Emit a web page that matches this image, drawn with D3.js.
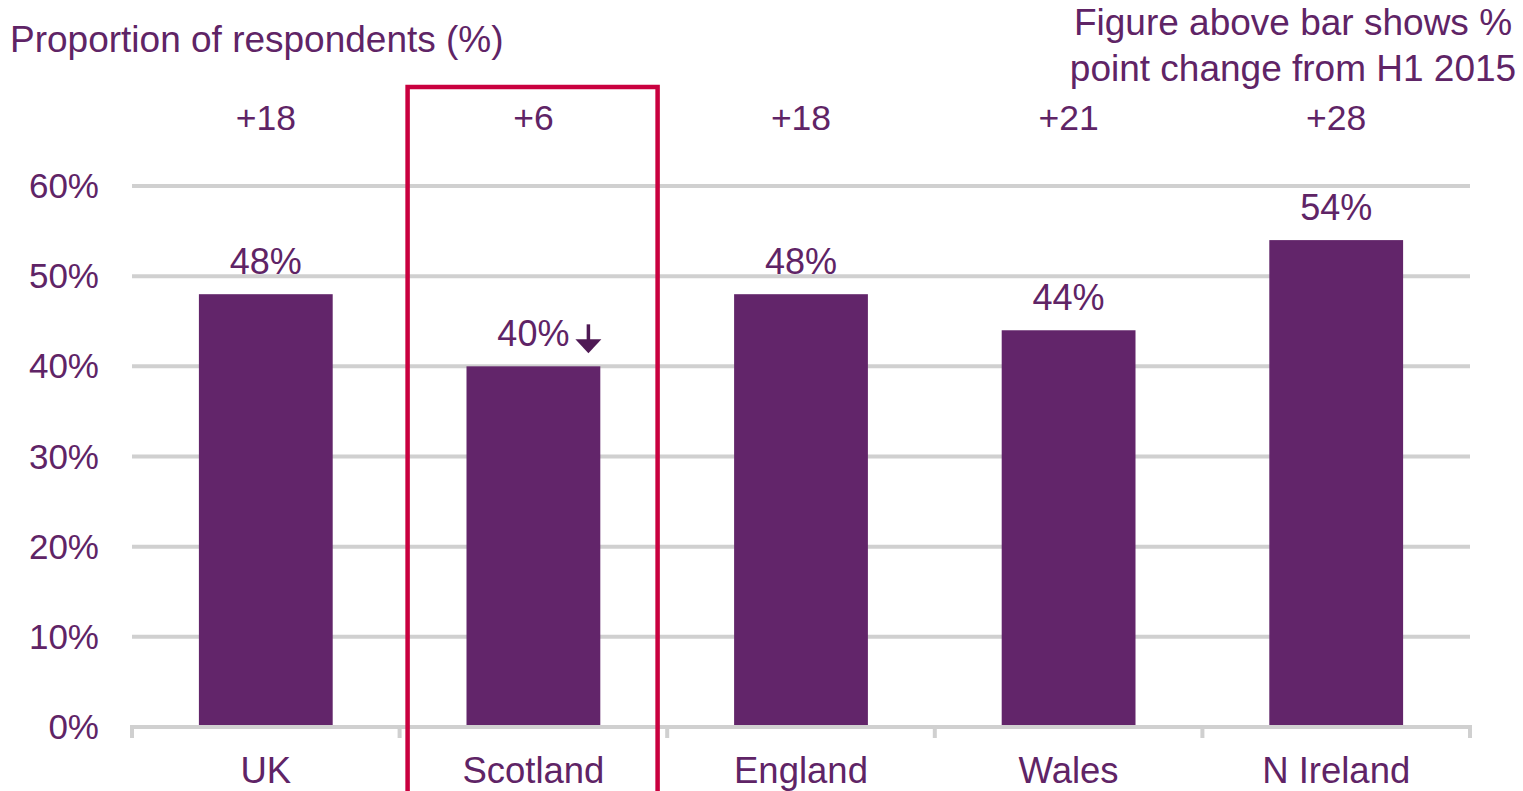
<!DOCTYPE html>
<html>
<head>
<meta charset="utf-8">
<script src="https://cdn.jsdelivr.net/npm/d3@7"></script>
<style>
  body { margin: 0; background: #fff; }
  svg { display: block; font-family: "Liberation Sans", Arial, sans-serif; }
</style>
</head>
<body>
<div id="app"></div>
<script>
const regions = ["UK", "Scotland", "England", "Wales", "N Ireland"]
const shares = [48, 40, 48, 44, 54]
const changes = ["+18", "+6", "+18", "+21", "+28"]
const yTicks = [0, 10, 20, 30, 40, 50, 60]

const purple = "#62256a"
const textCol = "#5f2466"
const gridCol = "#d0d0d0"

const W = 1523, H = 791
const svg = d3.select('#app').append('svg').attr('width', W).attr('height', H)

const x = d3.scaleBand().domain(regions).range([132, 1470]).paddingInner(0.5).paddingOuter(0.25)
const xb = d3.scaleBand().domain(regions).range([132, 1470])
const y = d3.scaleLinear().domain([0, 60]).range([727, 186])

// gridlines
svg.append('g')
    .selectAll('line')
    .data(yTicks.slice(1))
    .enter()
    .append('line')
    .attr('x1', 132)
    .attr('x2', 1470)
    .attr('y1', d => y(d))
    .attr('y2', d => y(d))
    .attr('stroke', gridCol)
    .attr('stroke-width', 4)

// y labels
svg.append('g')
    .selectAll('text')
    .data(yTicks)
    .enter()
    .append('text')
    .attr('x', 99)
    .attr('y', d => y(d) + 12)
    .attr('text-anchor', 'end')
    .attr('font-size', 35)
    .attr('fill', textCol)
    .text(d => d + '%')

// bars
svg.append('g')
    .selectAll('rect')
    .data(regions)
    .enter()
    .append('rect')
    .attr('x', d => x(d))
    .attr('y', (d, i) => y(shares[i]))
    .attr('width', x.bandwidth())
    .attr('height', (d, i) => y(0) - y(shares[i]) - 2)
    .attr('fill', purple)

// x axis
const xAxis = d3.axisBottom(xb).tickSize(0).tickFormat('')
const gx = svg.append('g').attr('transform', 'translate(0,' + y(0) + ')').call(xAxis)
gx.select('.domain').remove()
gx.append('line').attr('x1', 130).attr('x2', 1472).attr('stroke', gridCol).attr('stroke-width', 4)
const bounds = regions.map(d => xb(d)).concat([xb(regions[regions.length - 1]) + xb.bandwidth()])
gx.selectAll('.sep')
    .data(bounds)
    .enter()
    .append('line')
    .attr('class', 'sep')
    .attr('x1', d => d)
    .attr('x2', d => d)
    .attr('y1', 0)
    .attr('y2', 11)
    .attr('stroke', gridCol)
    .attr('stroke-width', 4)

svg.append('g')
    .selectAll('text')
    .data(regions)
    .enter()
    .append('text')
    .attr('x', d => x(d) + x.bandwidth() / 2)
    .attr('y', 783)
    .attr('text-anchor', 'middle')
    .attr('font-size', 36.5)
    .attr('fill', textCol)
    .text(d => d)

// value labels
svg.append('g')
    .selectAll('text')
    .data(regions)
    .enter()
    .append('text')
    .attr('x', d => x(d) + x.bandwidth() / 2)
    .attr('y', (d, i) => y(shares[i]) - 20)
    .attr('text-anchor', 'middle')
    .attr('font-size', 36)
    .attr('fill', textCol)
    .text((d, i) => shares[i] + '%')

// change labels
svg.append('g')
    .selectAll('text')
    .data(regions)
    .enter()
    .append('text')
    .attr('x', d => x(d) + x.bandwidth() / 2)
    .attr('y', 130)
    .attr('text-anchor', 'middle')
    .attr('font-size', 35.5)
    .attr('fill', textCol)
    .text((d, i) => changes[i])

// down arrow next to Scotland
const ax = x("Scotland") + x.bandwidth() / 2 + 55
const ay = y(40)
const arrow = svg.append('g').attr('fill', '#4f1a55').attr('stroke', '#4f1a55')
arrow.append('line').attr('x1', ax).attr('x2', ax).attr('y1', ay - 42).attr('y2', ay - 22).attr('stroke-width', 3.5)
arrow.append('path').attr('stroke', 'none')
    .attr('d', `M${ax - 13},${ay - 27} L${ax + 13},${ay - 27} L${ax},${ay - 13} Z`)

// highlight box
svg.append('rect')
    .attr('x', xb("Scotland") + 8)
    .attr('y', 87)
    .attr('width', 250)
    .attr('height', 720)
    .attr('fill', 'none')
    .attr('stroke', '#c9003f')
    .attr('stroke-width', 4.5)

// titles
svg.append('text')
    .attr('x', 10)
    .attr('y', 52)
    .attr('font-size', 37)
    .attr('fill', textCol)
    .text('Proportion of respondents (%)')

const note = svg.append('text')
    .attr('text-anchor', 'middle')
    .attr('font-size', 37)
    .attr('fill', textCol)
note.append('tspan').attr('x', 1293).attr('y', 35).text('Figure above bar shows %')
note.append('tspan').attr('x', 1293).attr('y', 81).text('point change from H1 2015')
</script>
</body>
</html>
